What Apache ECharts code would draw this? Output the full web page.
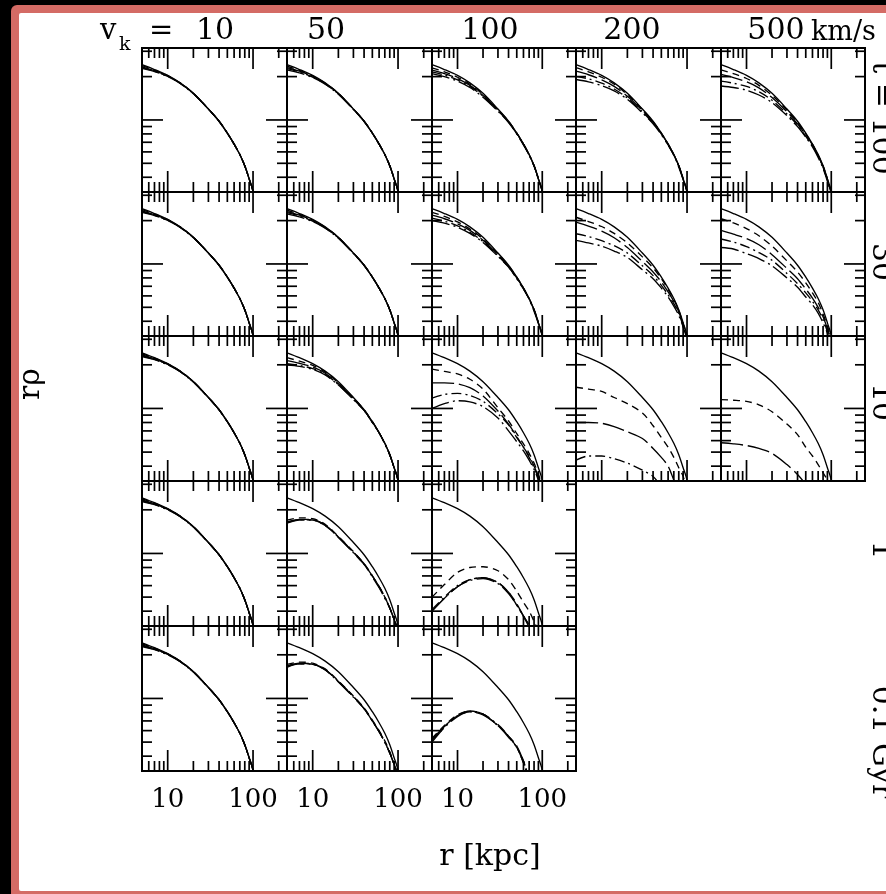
<!DOCTYPE html>
<html>
<head>
<meta charset="utf-8">
<script src="https://cdn.jsdelivr.net/npm/echarts@6/dist/echarts.min.js"></script>
<style>
html,body{margin:0;padding:0;background:#000;}
#c{width:886px;height:894px;}
</style>
</head>
<body>
<div id="c"></div>
<script>
// ---------------- data ----------------
const R = [5, 7, 10, 14, 20, 30, 40, 50, 60, 70, 80, 90, 100, 104];
const SOLID = [2.42, 2.24, 2.04, 1.81, 1.53, 1.19, 0.98, 0.81, 0.68, 0.575, 0.48, 0.39, 0.316, 0.16];

const VK_LABELS = ['10', '50', '100', '200', '500'];
const T_LABELS = ['t = 100', '30', '10', '1', '0.1 Gyr'];
const X_MAJOR = [10, 100];
const X_MINOR = [6, 7, 8, 9, 20, 30, 40, 50, 60, 70, 80, 90, 200];
const Y_MAJOR = [1];
const Y_MINOR = [0.4, 0.5, 0.6, 0.7, 0.8, 0.9, 2, 3];
const X_MIN = 5, X_MAX = 250, Y_MIN = 0.316, Y_MAX = 3.16;

// vk = 10 km/s (all times)
const v10_all = [
  [2.38, 2.22, 2.03, 1.81, 1.53, 1.19, 0.98, 0.81, 0.68, 0.575, 0.48, 0.39, 0.316, 0.16],
  [2.34, 2.20, 2.02, 1.80, 1.53, 1.19, 0.98, 0.81, 0.68, 0.575, 0.48, 0.39, 0.316, 0.16],
  [2.31, 2.18, 2.01, 1.80, 1.52, 1.19, 0.98, 0.81, 0.68, 0.575, 0.48, 0.39, 0.316, 0.16],
  [2.28, 2.17, 2.00, 1.79, 1.52, 1.19, 0.98, 0.81, 0.68, 0.575, 0.48, 0.39, 0.316, 0.16]
];
// vk = 50
const v50_t100 = [
  [2.36, 2.21, 2.02, 1.80, 1.53, 1.19, 0.98, 0.81, 0.68, 0.575, 0.48, 0.39, 0.316, 0.16],
  [2.31, 2.18, 2.00, 1.79, 1.52, 1.19, 0.98, 0.81, 0.68, 0.575, 0.48, 0.39, 0.316, 0.16],
  [2.27, 2.15, 1.98, 1.78, 1.52, 1.19, 0.98, 0.81, 0.68, 0.575, 0.48, 0.39, 0.316, 0.16],
  [2.23, 2.12, 1.97, 1.77, 1.51, 1.18, 0.98, 0.81, 0.68, 0.575, 0.48, 0.39, 0.316, 0.16]
];
const v50_t30 = v50_t100;
const v50_t10 = [
  [2.24, 2.12, 1.98, 1.78, 1.50, 1.18, 0.98, 0.81, 0.68, 0.575, 0.48, 0.39, 0.316, 0.16],
  [2.14, 2.05, 1.93, 1.75, 1.48, 1.17, 0.97, 0.81, 0.68, 0.575, 0.48, 0.39, 0.316, 0.16],
  [2.04, 1.98, 1.88, 1.72, 1.46, 1.16, 0.97, 0.80, 0.68, 0.57, 0.48, 0.39, 0.316, 0.16],
  [2.00, 1.95, 1.86, 1.70, 1.45, 1.15, 0.97, 0.80, 0.68, 0.57, 0.48, 0.39, 0.316, 0.16]
];
const v50_t1 = [
  [1.70, 1.76, 1.74, 1.59, 1.31, 1.03, 0.85, 0.70, 0.59, 0.50, 0.42, 0.35, 0.29, 0.15],
  [1.65, 1.72, 1.71, 1.57, 1.30, 1.02, 0.85, 0.70, 0.59, 0.50, 0.42, 0.35, 0.29, 0.15],
  [1.63, 1.71, 1.70, 1.56, 1.30, 1.02, 0.84, 0.70, 0.59, 0.50, 0.42, 0.35, 0.29, 0.15],
  [1.62, 1.70, 1.70, 1.56, 1.29, 1.01, 0.84, 0.69, 0.58, 0.49, 0.42, 0.35, 0.29, 0.15]
];
const v50_t01 = [
  [1.72, 1.78, 1.75, 1.60, 1.32, 1.04, 0.86, 0.71, 0.60, 0.51, 0.43, 0.35, 0.29, 0.15],
  [1.68, 1.75, 1.73, 1.58, 1.31, 1.03, 0.85, 0.70, 0.59, 0.50, 0.42, 0.35, 0.29, 0.15],
  [1.66, 1.74, 1.72, 1.58, 1.31, 1.03, 0.85, 0.70, 0.59, 0.50, 0.42, 0.35, 0.29, 0.15],
  [1.64, 1.73, 1.72, 1.57, 1.30, 1.02, 0.85, 0.70, 0.59, 0.50, 0.42, 0.35, 0.29, 0.15]
];
// vk = 100
const v100_t100 = [
  [2.30, 2.16, 1.98, 1.77, 1.50, 1.18, 0.98, 0.81, 0.68, 0.575, 0.48, 0.39, 0.316, 0.16],
  [2.22, 2.10, 1.94, 1.74, 1.48, 1.17, 0.97, 0.81, 0.68, 0.575, 0.48, 0.39, 0.316, 0.16],
  [2.16, 2.05, 1.90, 1.71, 1.46, 1.16, 0.97, 0.80, 0.68, 0.57, 0.48, 0.39, 0.316, 0.16],
  [2.10, 2.00, 1.86, 1.68, 1.44, 1.15, 0.96, 0.80, 0.67, 0.57, 0.48, 0.39, 0.316, 0.16]
];
const v100_t30 = [
  [2.28, 2.14, 1.96, 1.75, 1.49, 1.18, 0.97, 0.81, 0.68, 0.575, 0.48, 0.39, 0.316, 0.16],
  [2.18, 2.06, 1.90, 1.71, 1.46, 1.16, 0.96, 0.80, 0.68, 0.57, 0.48, 0.39, 0.316, 0.16],
  [2.08, 1.98, 1.84, 1.66, 1.43, 1.14, 0.95, 0.80, 0.67, 0.57, 0.48, 0.39, 0.31, 0.16],
  [2.00, 1.92, 1.80, 1.63, 1.41, 1.13, 0.95, 0.79, 0.67, 0.57, 0.47, 0.385, 0.31, 0.16]
];
const v100_t10 = [
  [1.87, 1.80, 1.73, 1.59, 1.36, 1.01, 0.82, 0.67, 0.57, 0.49, 0.42, 0.35, 0.29, 0.15],
  [1.50, 1.50, 1.48, 1.39, 1.22, 0.96, 0.78, 0.64, 0.54, 0.47, 0.40, 0.34, 0.28, 0.14],
  [1.18, 1.25, 1.27, 1.23, 1.12, 0.92, 0.77, 0.63, 0.54, 0.46, 0.39, 0.33, 0.27, 0.14],
  [1.00, 1.08, 1.13, 1.11, 1.03, 0.86, 0.70, 0.59, 0.51, 0.44, 0.38, 0.32, 0.26, 0.13]
];
const v100_t1 = [
  [0.50, 0.61, 0.74, 0.80, 0.81, 0.76, 0.66, 0.55, 0.46, 0.40, 0.34, 0.29, 0.24, 0.12],
  [0.40, 0.49, 0.59, 0.66, 0.68, 0.63, 0.54, 0.45, 0.37, 0.32, 0.27, 0.23, 0.19, 0.10],
  [0.41, 0.50, 0.60, 0.66, 0.68, 0.63, 0.54, 0.44, 0.37, 0.32, 0.27, 0.23, 0.19, 0.10],
  [0.40, 0.49, 0.59, 0.65, 0.67, 0.62, 0.53, 0.44, 0.37, 0.31, 0.27, 0.23, 0.19, 0.10]
];
const v100_t01 = [
  [0.53, 0.65, 0.77, 0.82, 0.78, 0.65, 0.55, 0.46, 0.37, 0.28, 0.22, 0.18, 0.14, 0.10],
  [0.52, 0.64, 0.76, 0.82, 0.78, 0.65, 0.55, 0.47, 0.37, 0.28, 0.22, 0.18, 0.14, 0.10],
  [0.51, 0.64, 0.76, 0.81, 0.78, 0.66, 0.55, 0.46, 0.36, 0.28, 0.22, 0.18, 0.14, 0.10],
  [0.50, 0.63, 0.75, 0.81, 0.77, 0.65, 0.54, 0.46, 0.36, 0.27, 0.22, 0.18, 0.14, 0.10]
];
// vk = 200
const v200_t100 = [
  [2.31, 2.16, 1.98, 1.77, 1.50, 1.18, 0.97, 0.81, 0.68, 0.575, 0.48, 0.39, 0.316, 0.16],
  [2.18, 2.06, 1.90, 1.71, 1.46, 1.16, 0.96, 0.80, 0.68, 0.575, 0.48, 0.39, 0.316, 0.16],
  [2.01, 1.93, 1.80, 1.64, 1.42, 1.14, 0.95, 0.80, 0.67, 0.57, 0.48, 0.39, 0.31, 0.16],
  [1.91, 1.84, 1.73, 1.59, 1.39, 1.12, 0.94, 0.79, 0.67, 0.57, 0.47, 0.385, 0.31, 0.16]
];
const v200_t30 = [
  [2.11, 1.97, 1.82, 1.63, 1.40, 1.12, 0.94, 0.79, 0.665, 0.565, 0.475, 0.385, 0.31, 0.16],
  [1.95, 1.83, 1.69, 1.52, 1.30, 1.04, 0.88, 0.75, 0.64, 0.55, 0.465, 0.38, 0.305, 0.15],
  [1.62, 1.55, 1.45, 1.34, 1.19, 0.97, 0.83, 0.71, 0.61, 0.53, 0.455, 0.37, 0.30, 0.15],
  [1.46, 1.40, 1.33, 1.23, 1.11, 0.91, 0.79, 0.68, 0.59, 0.51, 0.44, 0.365, 0.295, 0.15]
];
const v200_t10 = [
  [1.40, 1.36, 1.31, 1.19, 1.08, 0.93, 0.76, 0.63, 0.54, 0.46, 0.39, 0.34, 0.27, 0.14],
  [0.80, 0.80, 0.79, 0.75, 0.69, 0.62, 0.53, 0.46, 0.40, 0.32, 0.26, 0.20, 0.15, 0.10],
  [0.44, 0.47, 0.47, 0.45, 0.42, 0.375, 0.34, 0.29, 0.25, 0.20, 0.16, 0.13, 0.10, 0.08]
];
// vk = 500
const v500_t100 = [
  [2.23, 2.10, 1.94, 1.74, 1.48, 1.17, 0.96, 0.80, 0.68, 0.57, 0.48, 0.39, 0.31, 0.16],
  [2.07, 1.97, 1.84, 1.67, 1.43, 1.14, 0.94, 0.79, 0.67, 0.565, 0.475, 0.385, 0.31, 0.16],
  [1.86, 1.80, 1.71, 1.57, 1.37, 1.10, 0.92, 0.77, 0.66, 0.56, 0.47, 0.38, 0.30, 0.15],
  [1.72, 1.68, 1.61, 1.49, 1.32, 1.07, 0.90, 0.76, 0.65, 0.55, 0.46, 0.375, 0.30, 0.15]
];
const v500_t30 = [
  [2.06, 1.93, 1.76, 1.57, 1.33, 1.05, 0.88, 0.74, 0.63, 0.54, 0.45, 0.37, 0.30, 0.15],
  [1.71, 1.61, 1.50, 1.36, 1.16, 0.93, 0.79, 0.67, 0.58, 0.50, 0.43, 0.355, 0.29, 0.14],
  [1.49, 1.42, 1.32, 1.20, 1.06, 0.86, 0.73, 0.63, 0.55, 0.48, 0.41, 0.34, 0.28, 0.14],
  [1.30, 1.27, 1.18, 1.09, 0.97, 0.80, 0.69, 0.59, 0.52, 0.455, 0.39, 0.33, 0.27, 0.13]
];
const v500_t10 = [
  [1.15, 1.14, 1.12, 1.06, 0.95, 0.78, 0.66, 0.54, 0.47, 0.41, 0.36, 0.32, 0.27, 0.14],
  [0.58, 0.57, 0.555, 0.53, 0.49, 0.41, 0.35, 0.30, 0.26, 0.22, 0.19, 0.16, 0.13, 0.10]
];

// panel list: [row, col, curves]
const PANELS = [
  [0, 0, v10_all], [0, 1, v50_t100], [0, 2, v100_t100], [0, 3, v200_t100], [0, 4, v500_t100],
  [1, 0, v10_all], [1, 1, v50_t30],  [1, 2, v100_t30],  [1, 3, v200_t30],  [1, 4, v500_t30],
  [2, 0, v10_all], [2, 1, v50_t10],  [2, 2, v100_t10],  [2, 3, v200_t10],  [2, 4, v500_t10],
  [3, 0, v10_all], [3, 1, v50_t1],   [3, 2, v100_t1],
  [4, 0, v10_all], [4, 1, v50_t01],  [4, 2, v100_t01]
];

// ---------------- layout / style ----------------
const COL_X = [142, 287, 432, 576, 721, 865];
const ROW_Y = [48, 192, 336, 481, 626, 771];
const FONT = '"DejaVu Serif", "Liberation Serif", serif';
const LINE_TYPES = ['solid', [7, 5], [22, 5], [10, 4, 2, 4], [18, 4, 2, 4]];

const grids = [], xAxes = [], yAxes = [], series = [];

function tickRenderer(params, api) {
  const cs = params.coordSys;
  const kids = [];
  const seg = (x1, y1, x2, y2) => kids.push({
    type: 'line', shape: {x1, y1, x2, y2},
    style: {stroke: '#000', lineWidth: 1.7}
  });
  const bot = cs.y + cs.height, top = cs.y, lef = cs.x, rig = cs.x + cs.width;
  const xt = (v, len) => {
    const px = api.coord([v, 1])[0];
    seg(px, bot, px, bot - len); seg(px, top, px, top + len);
  };
  const yt = (v, len) => {
    const py = api.coord([10, v])[1];
    seg(lef, py, lef + len, py); seg(rig, py, rig - len, py);
  };
  X_MAJOR.forEach(v => xt(v, 21));
  X_MINOR.forEach(v => xt(v, 10));
  Y_MAJOR.forEach(v => yt(v, 21));
  Y_MINOR.forEach(v => yt(v, 10));
  return {type: 'group', children: kids};
}

PANELS.forEach(([row, col, curves], i) => {
  grids.push({
    left: COL_X[col], top: ROW_Y[row],
    width: COL_X[col + 1] - COL_X[col], height: ROW_Y[row + 1] - ROW_Y[row],
    show: true, borderColor: '#000', borderWidth: 2, backgroundColor: 'transparent',
    containLabel: false, outerBoundsMode: 'none'
  });
  const isBottom = row === 4;
  xAxes.push({
    gridIndex: i, type: 'log', logBase: 10, min: X_MIN, max: X_MAX,
    axisLine: {show: false}, axisTick: {show: false}, splitLine: {show: false},
    axisLabel: {
      show: isBottom, color: '#000', fontFamily: FONT, fontSize: 26, margin: 16,
      showMinLabel: true, showMaxLabel: true,
      formatter: v => {
        const l = Math.log10(v);
        return (Math.abs(l - Math.round(l)) < 1e-6 && v > 6 && v < 200) ? String(Math.round(v)) : '';
      }
    }
  });
  yAxes.push({
    gridIndex: i, type: 'log', logBase: 10, min: Y_MIN, max: Y_MAX,
    axisLine: {show: false}, axisTick: {show: false}, splitLine: {show: false},
    axisLabel: {show: false}
  });
  [SOLID].concat(curves).forEach((ys, k) => {
    series.push({
      type: 'line', xAxisIndex: i, yAxisIndex: i,
      data: R.map((r, j) => [r, ys[j]]),
      showSymbol: false, symbol: 'none', smooth: 0.3, clip: true, silent: true,
      lineStyle: {color: '#000', width: 1.35, type: LINE_TYPES[k]}
    });
  });
  series.push({
    type: 'custom', xAxisIndex: i, yAxisIndex: i, silent: true, clip: false, z: 3,
    data: [[10, 1]], renderItem: tickRenderer
  });
});

const txt = (text, x, y, size, align, extra) => Object.assign({
  type: 'text', x, y, z: 100,
  style: {text, fill: '#000', fontFamily: FONT, fontSize: size, align: align, verticalAlign: 'middle'}
}, extra || {});

const HEAD_X = [215, 326, 490, 632, 776];
const ROW_LABEL_Y = [118, 262, 402, 550, 742];

const graphic = [
  {type: 'rect', z: -10, shape: {x: 11, y: 5, width: 900, height: 900, r: 6}, style: {fill: '#d46b65'}},
  {type: 'rect', z: -9, shape: {x: 19, y: 13, width: 900, height: 878, r: 2}, style: {fill: '#ffffff'}},
  txt('v', 100, 31, 29, 'left'),
  txt('k', 119, 45, 19, 'left'),
  txt('=', 149, 31, 29, 'left'),
  txt('km/s', 811, 33, 27, 'left'),
  txt('r [kpc]', 490, 857, 30, 'center'),
  txt('rρ', 31, 384, 30, 'center', {rotation: Math.PI / 2})
];
VK_LABELS.forEach((s, i) => graphic.push(txt(s, HEAD_X[i], 31, 30, 'center')));
T_LABELS.forEach((s, i) => {
  const g = txt(s, 866, ROW_LABEL_Y[i], 30, 'center', {rotation: -Math.PI / 2});
  g.style.verticalAlign = 'bottom';
  graphic.push(g);
});

const chart = echarts.init(document.getElementById('c'), null, {renderer: 'canvas'});
chart.setOption({
  backgroundColor: '#000',
  animation: false,
  textStyle: {fontFamily: FONT},
  grid: grids, xAxis: xAxes, yAxis: yAxes, series: series,
  graphic: graphic
});
</script>
</body>
</html>
